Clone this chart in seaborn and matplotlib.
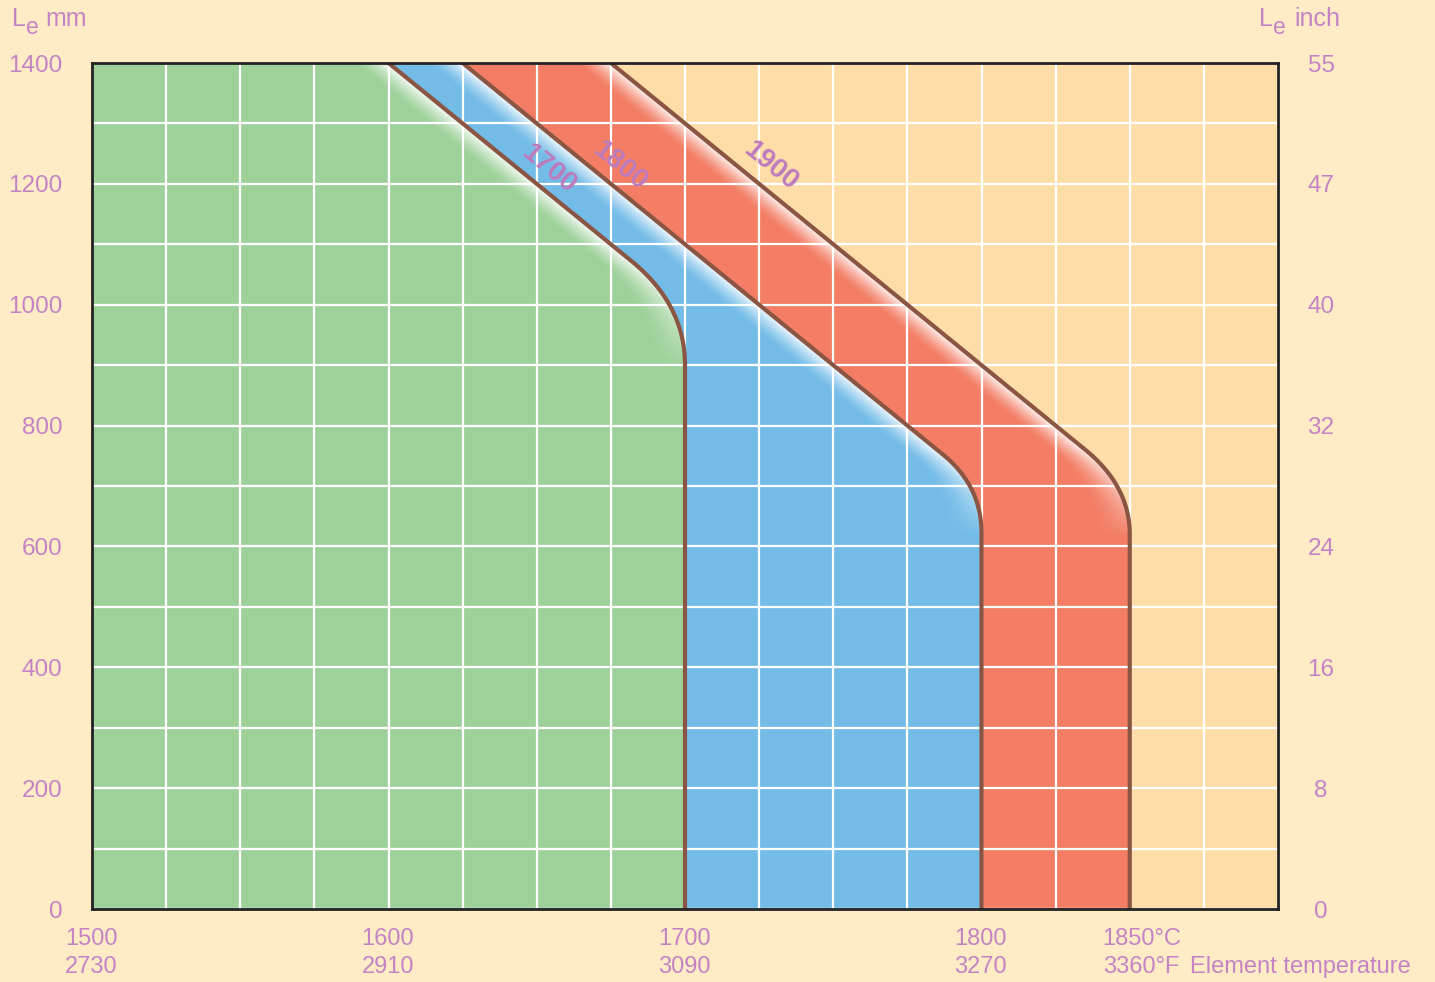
"""
plot.py - element length vs. element temperature chart (Le in mm / inch).
"""

import numpy as np
import pandas as pd
import matplotlib
matplotlib.use("Agg")
import matplotlib.pyplot as plt
import seaborn as sns

# --- data -------------------------------------------------------------------
curve_names = ["1700", "1800", "1900"]
curve_top_temp = [1600, 1625, 1675]      # °C where the curve meets Le = 1400 mm
curve_corner_temp = [1700, 1800, 1850]   # °C of the vertical part
curve_corner_len = [1000, 700, 700]      # mm where diagonal meets vertical
top_len = 1400

label_temp = [1654, 1678, 1729]
label_len = [1225, 1229, 1229]

x_ticks_c = [1500, 1600, 1700, 1800, 1850]
x_labels_c = ["1500", "1600", "1700", "1800", "1850°C"]
x_labels_f = ["2730", "2910", "3090", "3270", "3360°F"]

y_ticks_mm = [0, 200, 400, 600, 800, 1000, 1200, 1400]
y_labels_inch = ["0", "8", "16", "24", "32", "40", "47", "55"]

# --- style ------------------------------------------------------------------
BG = "#FFECC7"
REGION_COLOURS = ["#9ED19A", "#74BCE8", "#F37E65", "#FFDDA8"]
LINE = "#8A5643"
TEXT = "#C484C3"
LABEL = "#BD7BBD"
ROUND_DIAG = [18, 13, 15]   # °C rounding leg along the diagonal
ROUND_VERT = [100, 78, 80]  # mm rounding leg along the vertical
FADE_WIDTH = 34             # px
FADE_AMP = 0.95
FS = 17.5
FS_X = 17

W, H, DPI = 1435, 982, 100
AX_BOX = [92 / W, 1 - 909 / H, (1278 - 92) / W, (909 - 63) / H]


def build_curve(t_top, t_c, l_c, dt, dl, n=80):
    """Diagonal + vertical boundary with a rounded (quadratic bezier) corner."""
    slope = (top_len - l_c) / (t_c - t_top)
    p0 = np.array([t_c - dt, l_c + slope * dt])
    p1 = np.array([t_c, l_c])
    p2 = np.array([t_c, l_c - dl])
    s = np.linspace(0, 1, n)[:, None]
    bez = (1 - s) ** 2 * p0 + 2 * (1 - s) * s * p1 + s ** 2 * p2
    temps = np.concatenate([[t_top], bez[:, 0], [t_c]])
    lens = np.concatenate([[top_len], bez[:, 1], [0]])
    return temps, lens, slope


curves = [
    build_curve(tt, tc, lc, dt, dl)
    for tt, tc, lc, dt, dl in zip(curve_top_temp, curve_corner_temp,
                                  curve_corner_len, ROUND_DIAG, ROUND_VERT)
]

# --- background image with regions and white fades ---------------------------
nx, ny = 1186, 846
t_grid = 1500 + (np.arange(nx) + 0.5) * 400 / nx
l_grid = (np.arange(ny) + 0.5) * 1400 / ny
px_per_deg = nx / 400

curve_t = []
curve_w = []
for temps, lens, slope in curves:
    tc = np.interp(l_grid, lens[::-1], temps[::-1])
    grad = np.gradient(tc, l_grid)
    curve_t.append(tc)
    curve_w.append(np.clip(-grad * slope, 0, 1) ** 0.7)

T = t_grid[None, :]
region = np.zeros((ny, nx), dtype=int)
for tc in curve_t:
    region += (T > tc[:, None]).astype(int)

cols = np.array([matplotlib.colors.to_rgb(c) for c in REGION_COLOURS])
rgb = cols[region]
fade = np.zeros((ny, nx))
for k, (tc, w) in enumerate(zip(curve_t, curve_w)):
    d_px = (tc[:, None] - T) * px_per_deg
    f = w[:, None] * FADE_AMP * np.clip(1 - d_px / FADE_WIDTH, 0, 1) ** 1.4
    fade = np.where(region == k, f, fade)
rgb = rgb + (1 - rgb) * fade[..., None]

# --- figure -----------------------------------------------------------------
sns.set_theme(style="white")
plt.rcParams["font.family"] = ["Liberation Sans", "DejaVu Sans"]

fig = plt.figure(figsize=(W / DPI, H / DPI), dpi=DPI, facecolor=BG)
ax = fig.add_axes(AX_BOX)
ax.imshow(rgb, origin="lower", extent=(1500, 1900, 0, 1400), aspect="auto",
          interpolation="nearest", zorder=0)

ax.set_xlim(1500, 1900)
ax.set_ylim(0, 1400)
ax.set_xticks(np.arange(1500, 1901, 25))
ax.set_xticklabels([])
ax.set_yticks(np.arange(0, 1401, 100))
ax.set_yticklabels([str(v) if v in y_ticks_mm else "" for v in range(0, 1401, 100)],
                   fontsize=FS, color=TEXT)
ax.tick_params(axis="both", length=0)
ax.tick_params(axis="y", pad=21.5)
ax.set_axisbelow(True)
ax.grid(True, color="white", lw=1.6)
for sp in ax.spines.values():
    sp.set_visible(True)
    sp.set_color("#222222")
    sp.set_linewidth(2)
    sp.set_zorder(5)

# boundary curves
curve_df = pd.concat(
    [pd.DataFrame({"temp": c[0], "length": c[1], "curve": name})
     for c, name in zip(curves, curve_names)],
    ignore_index=True,
)
sns.lineplot(data=curve_df, x="temp", y="length", hue="curve",
             palette=[LINE] * 3, sort=False, estimator=None, lw=3,
             legend=False, ax=ax, zorder=3)
ax.set_xlabel("")
ax.set_ylabel("")

# curve labels along the diagonals
p1 = ax.transData.transform((curve_top_temp[0], top_len))
p2 = ax.transData.transform((curve_corner_temp[0], curve_corner_len[0]))
angle = np.degrees(np.arctan2(p2[1] - p1[1], p2[0] - p1[0]))
for name, t, l in zip(curve_names, label_temp, label_len):
    ax.text(t, l, name, rotation=angle, rotation_mode="anchor", ha="center",
            va="center", fontsize=20, fontweight="bold", color=LABEL, zorder=4)

# right axis in inch
ax2 = ax.twinx()
ax2.set_ylim(0, 1400)
ax2.set_yticks(y_ticks_mm)
ax2.set_yticklabels(y_labels_inch, fontsize=FS, color=TEXT, ha="center")
ax2.tick_params(axis="y", length=0, pad=31)
for sp in ax2.spines.values():
    sp.set_visible(False)
ax2.grid(False)

# bottom labels: °C row and °F row
xform = ax.get_xaxis_transform()
for t, lc, lf in zip(x_ticks_c, x_labels_c, x_labels_f):
    ax.annotate(lc, xy=(t, 0), xycoords=xform, xytext=(-27, -36),
                textcoords="offset pixels", ha="left", va="baseline",
                fontsize=FS_X, color=TEXT, annotation_clip=False)
    ax.annotate(lf, xy=(t, 0), xycoords=xform, xytext=(-27, -64),
                textcoords="offset pixels", ha="left", va="baseline",
                fontsize=FS_X, color=TEXT, annotation_clip=False)
ax.annotate("Element temperature", xy=(1850, 0), xycoords=xform,
            xytext=(60, -64), textcoords="offset pixels", ha="left",
            va="baseline", fontsize=FS_X, color=TEXT, annotation_clip=False)

# axis titles: L with lowered e
for x_l, x_e, x_u, unit in [(12, 26, 45, "mm"), (1259, 1273, 1294, "inch")]:
    fig.text(x_l / W, 1 - 26.5 / H, "L", fontsize=18, color=TEXT,
             ha="left", va="baseline")
    fig.text(x_e / W, 1 - 34 / H, "e", fontsize=16.5, color=TEXT,
             ha="left", va="baseline")
    fig.text(x_u / W, 1 - 26.5 / H, unit, fontsize=18, color=TEXT,
             ha="left", va="baseline")

fig.savefig("out.png", dpi=DPI, facecolor=BG)
plt.close(fig)
